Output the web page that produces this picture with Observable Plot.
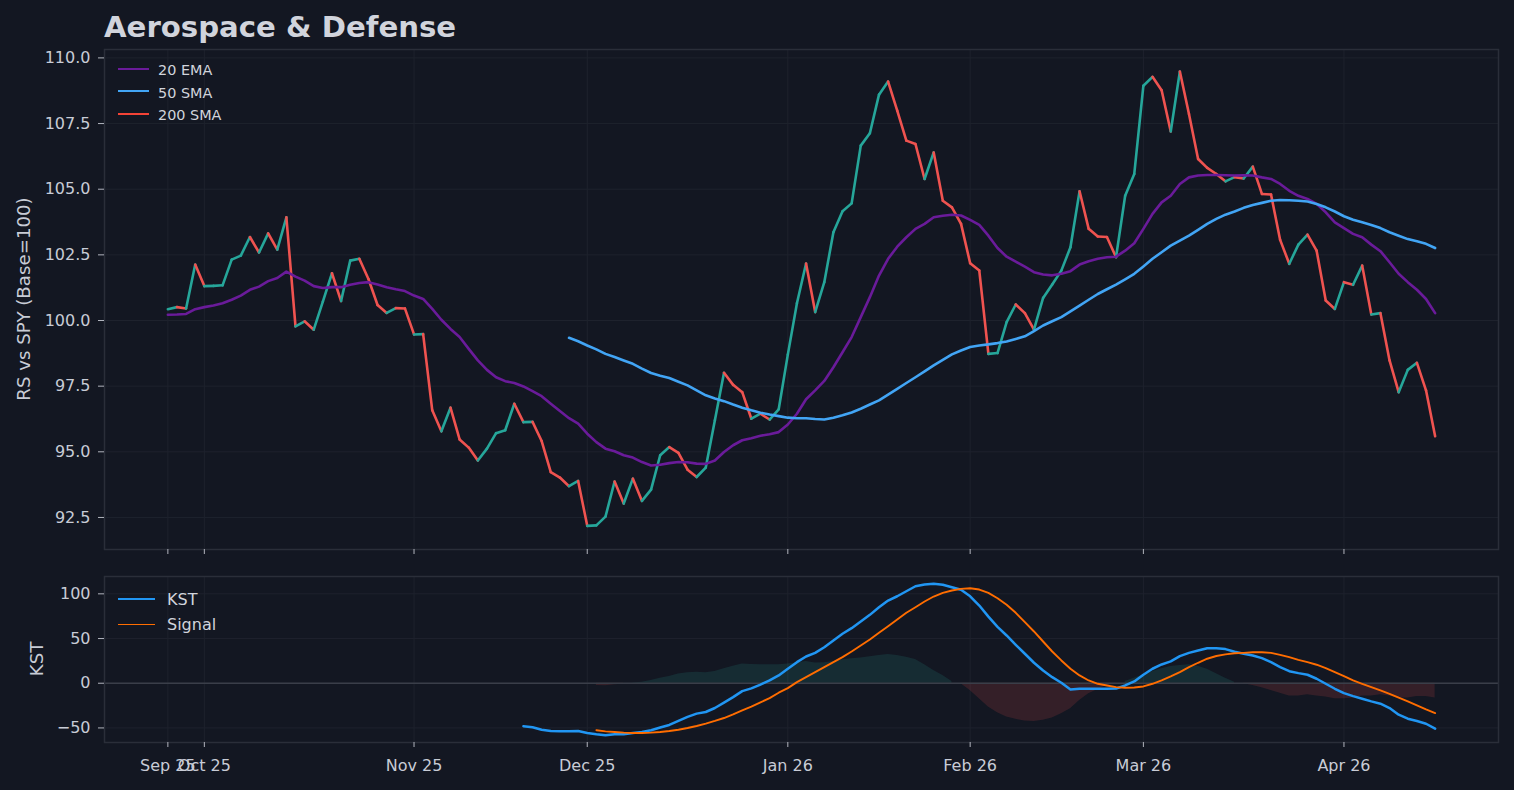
<!DOCTYPE html>
<html><head><meta charset="utf-8">
<script src="https://cdn.jsdelivr.net/npm/d3@7"></script>
<script src="https://cdn.jsdelivr.net/npm/@observablehq/plot@0.6"></script>
<style>
html,body{margin:0;padding:0;background:#131722;overflow:hidden;}
#wrap{position:relative;width:1514px;height:790px;background:#131722;font-family:"DejaVu Sans",sans-serif;color:#c8ccd6;}
.abs{position:absolute;white-space:nowrap;line-height:1;}
#title{left:104px;top:12.5px;font-size:29.2px;font-weight:bold;color:#d1d4dc;}
.lg1{font-size:14.4px;color:#d1d4dc;}
.lg2{font-size:16px;color:#d1d4dc;}
.sw{position:absolute;height:0;}
.ylab{font-size:18.2px;color:#c8ccd6;transform:translate(-50%,-50%) rotate(-90deg);}
#topPlot{position:absolute;left:0;top:0;}
#botPlot{position:absolute;left:0;top:560px;}
</style></head>
<body>
<div id="wrap">
  <div id="topPlot"></div>
  <div id="botPlot"></div>
  <div id="title" class="abs">Aerospace &amp; Defense</div>
  <div class="abs ylab" style="left:24px;top:299px;">RS vs SPY (Base=100)</div>
  <div class="abs ylab" style="left:37px;top:659px;">KST</div>
  <div id="legendTop"></div>
  <div id="legendBot"></div>
</div>
<script>
// ---- data (trading-day index, 0 = Sep 25 2025) ----
const xTickIndex = [0, 4, 27, 46, 68, 88, 107, 129];
const xTickLabels = ["Sep 25", "Oct 25", "Nov 25", "Dec 25", "Jan 26", "Feb 26", "Mar 26", "Apr 26"];
const rsTicks = [92.5, 95.0, 97.5, 100.0, 102.5, 105.0, 107.5, 110.0];
const kstTicks = [-50, 0, 50, 100];

// Relative strength vs SPY, index 0..139
const rs = [
  100.43,100.51,100.46,102.13,101.31,101.32,101.34,102.32,102.47,103.18,
  102.59,103.32,102.70,103.93,99.78,99.97,99.65,100.72,101.80,100.74,
  102.28,102.35,101.58,100.59,100.29,100.47,100.46,99.47,99.48,96.58,
  95.78,96.68,95.47,95.16,94.67,95.12,95.71,95.82,96.83,96.13,
  96.14,95.41,94.23,94.02,93.69,93.89,92.18,92.20,92.53,93.87,
  93.03,93.98,93.13,93.56,94.87,95.18,94.96,94.32,94.04,94.40,
  96.20,98.01,97.55,97.27,96.26,96.45,96.23,96.62,98.70,100.66,
  102.17,100.32,101.46,103.36,104.16,104.46,106.66,107.13,108.60,109.10,
  107.99,106.85,106.72,105.39,106.40,104.56,104.31,103.68,102.18,101.90,
  98.73,98.76,99.94,100.61,100.28,99.65,100.86,101.37,101.90,102.79,
  104.92,103.49,103.20,103.18,102.41,104.75,105.58,108.94,109.28,108.77,
  107.20,109.48,107.86,106.15,105.81,105.58,105.30,105.46,105.41,105.86,
  104.82,104.80,103.07,102.16,102.89,103.27,102.66,100.76,100.44,101.46,
  101.36,102.09,100.23,100.28,98.48,97.27,98.12,98.39,97.34,95.59
];
// 20 EMA, index 0..139
const ema20 = [
  100.22,100.23,100.25,100.43,100.51,100.57,100.66,100.79,100.95,101.17,
  101.29,101.50,101.62,101.86,101.67,101.52,101.31,101.24,101.27,101.27,
  101.36,101.43,101.46,101.37,101.27,101.19,101.12,100.95,100.82,100.44,
  100.03,99.68,99.37,98.92,98.48,98.12,97.84,97.69,97.62,97.49,
  97.31,97.12,96.83,96.55,96.28,96.07,95.69,95.37,95.12,95.02,
  94.87,94.78,94.61,94.48,94.51,94.57,94.61,94.60,94.55,94.54,
  94.67,94.99,95.25,95.44,95.52,95.61,95.67,95.75,96.04,96.45,
  97.00,97.34,97.70,98.22,98.79,99.37,100.13,100.89,101.71,102.35,
  102.81,103.17,103.49,103.68,103.93,103.99,104.03,104.00,103.83,103.64,
  103.23,102.76,102.43,102.24,102.05,101.84,101.75,101.72,101.78,101.88,
  102.13,102.26,102.35,102.41,102.43,102.66,102.94,103.49,104.06,104.50,
  104.75,105.20,105.45,105.52,105.54,105.54,105.53,105.52,105.53,105.52,
  105.45,105.39,105.20,104.94,104.75,104.63,104.44,104.12,103.74,103.52,
  103.30,103.17,102.89,102.64,102.22,101.78,101.46,101.17,100.82,100.28
];
// 50 SMA, starts at index 44
const sma50Start = 44;
const sma50 = [
  99.34,99.21,99.05,98.90,98.73,98.61,98.48,98.35,98.17,98.00,
  97.90,97.81,97.67,97.53,97.34,97.15,97.03,96.93,96.80,96.68,
  96.58,96.49,96.42,96.36,96.30,96.28,96.28,96.25,96.23,96.30,
  96.39,96.50,96.64,96.80,96.96,97.18,97.40,97.62,97.84,98.06,
  98.29,98.50,98.71,98.86,98.99,99.05,99.09,99.14,99.20,99.30,
  99.40,99.60,99.81,99.97,100.13,100.35,100.57,100.79,101.01,101.19,
  101.37,101.57,101.78,102.06,102.35,102.60,102.85,103.04,103.23,103.45,
  103.68,103.87,104.03,104.15,104.29,104.40,104.48,104.56,104.59,104.58,
  104.56,104.53,104.44,104.31,104.15,103.97,103.84,103.74,103.64,103.52,
  103.36,103.23,103.10,103.02,102.92,102.76
];
// KST, starts at index 39
const kstStart = 39;
const kst = [
  -48.1,-49.2,-52.0,-53.4,-53.8,-53.8,-53.4,-55.6,-57.1,-58.2,
  -57.1,-57.1,-55.6,-54.5,-52.6,-49.6,-46.7,-42.2,-37.7,-34.0,
  -32.2,-27.7,-21.7,-15.5,-8.8,-5.8,-1.5,3.1,8.7,16.2,
  23.6,29.9,34.0,40.3,47.8,55.3,61.6,69.0,76.5,85.0,
  92.5,97.3,102.9,108.5,110.4,111.2,110.1,107.4,104.5,97.3,
  86.9,74.5,63.0,53.4,43.0,33.0,22.9,14.3,6.8,0.6,
  -6.9,-6.2,-6.2,-6.3,-6.3,-6.0,-2.5,2.0,9.5,16.2,
  21.0,24.4,30.3,34.0,36.6,39.2,39.2,38.2,35.2,33.0,
  31.1,28.1,23.6,18.0,13.5,11.3,9.5,5.0,-0.6,-6.2,
  -11.1,-14.4,-17.3,-20.3,-22.9,-27.8,-35.2,-39.7,-42.3,-45.3,
  -50.8
];
// Signal, starts at index 47
const signalStart = 47;
const signal = [
  -52.6,-53.8,-54.5,-55.2,-55.6,-55.6,-55.2,-54.5,-53.4,-52.0,
  -50.1,-47.8,-45.2,-42.2,-38.9,-34.8,-30.3,-26.2,-21.4,-16.6,
  -10.6,-5.5,1.2,6.8,12.4,18.0,23.6,29.2,35.5,42.2,
  48.9,56.4,63.8,71.3,78.8,85.0,91.4,97.0,101.1,103.7,
  105.6,106.3,104.8,101.1,95.1,87.7,78.8,68.3,57.9,46.7,
  35.5,25.5,16.2,8.7,3.1,-0.6,-2.5,-4.4,-5.0,-4.7,
  -3.6,-0.6,3.1,7.6,12.4,18.0,22.9,27.4,30.5,32.3,
  33.5,34.0,34.7,34.7,34.0,31.8,29.2,26.2,23.6,20.7,
  16.9,12.4,7.9,3.1,-0.6,-4.4,-8.0,-11.8,-16.2,-20.3,
  -24.8,-29.3,-33.4
];
// KST histogram, starts at index 47
const histStart = 47;
const hist = [
  -2.5,-2.8,-1.7,-1.0,0.3,1.2,3.1,5.7,7.6,10.2,
  11.7,12.4,11.7,13.2,16.2,19.1,21.4,21.0,20.7,20.7,
  20.7,21.4,22.9,24.4,22.5,22.9,24.4,26.2,27.4,28.1,
  29.6,31.1,32.2,31.1,29.2,26.6,20.7,14.3,8.7,2.0,
  -0.6,-8.0,-17.3,-26.7,-33.0,-37.8,-40.4,-42.2,-42.7,-41.5,
  -38.9,-34.0,-28.5,-19.2,-11.8,-6.9,-2.5,-0.6,2.0,5.7,
  9.5,13.2,16.2,18.7,19.9,20.7,19.1,15.7,10.6,5.7,
  1.2,-0.6,-2.5,-5.0,-8.0,-11.1,-14.4,-14.4,-12.9,-14.4,
  -15.5,-17.3,-17.3,-16.6,-14.4,-14.4,-12.9,-14.4,-16.6,-16.6,
  -14.8,-14.8,-16.6
];

// ---- styles ----
const BG = "#131722", GRID = "#1e222d", FRAME = "#2a2e39", TICK = "#b2b5be", TXT = "#c8ccd6";
const UP = "#26a69a", DOWN = "#ef5350";
const C_EMA = "#6a1b9a", C_SMA50 = "#42a5f5", C_SMA200 = "#f44336";
const C_KST = "#2196f3", C_SIG = "#ff6d00";
const W = 1514;
const xDomain = [-6.95, 145.95];

const segs = d3.range(1, rs.length).map(i => ({x1: i - 1, y1: rs[i - 1], x2: i, y2: rs[i], c: rs[i] >= rs[i - 1] ? UP : DOWN}));
const emaData = ema20.map((v, i) => ({i, v}));
const smaData = sma50.map((v, j) => ({i: sma50Start + j, v}));
const kstData = kst.map((v, j) => ({i: kstStart + j, v}));
const sigData = signal.map((v, j) => ({i: signalStart + j, v}));
const histData = hist.map((v, j) => ({i: histStart + j, v}));
const style = {background: BG, color: TXT, fontFamily: "DejaVu Sans, sans-serif", fontSize: "16px", overflow: "visible"};

const topChart = Plot.plot({
  width: W, height: 560, marginTop: 49, marginBottom: 11, marginLeft: 104, marginRight: 16,
  style,
  x: {type: "linear", domain: xDomain},
  y: {domain: [91.28, 110.32]},
  marks: [
    Plot.gridY(rsTicks, {stroke: GRID, strokeOpacity: 1, strokeWidth: 1}),
    Plot.gridX(xTickIndex, {stroke: GRID, strokeOpacity: 1, strokeWidth: 1}),
    Plot.link(segs, {x1: "x1", y1: "y1", x2: "x2", y2: "y2", stroke: "c", strokeWidth: 2.6, strokeLinecap: "round"}),
    Plot.line(emaData, {x: "i", y: "v", stroke: C_EMA, strokeWidth: 2.6}),
    Plot.line(smaData, {x: "i", y: "v", stroke: C_SMA50, strokeWidth: 2.6}),
    Plot.frame({stroke: FRAME, strokeWidth: 1.5}),
    Plot.axisY(rsTicks, {tickFormat: d => d.toFixed(1), tickSize: 6, tickPadding: 8, stroke: TICK, fill: TXT, label: null, fontSize: 16}),
    Plot.axisX(xTickIndex, {tickFormat: () => "", tickSize: 5, stroke: TICK, label: null})
  ]
});
document.getElementById("topPlot").appendChild(topChart);

const botChart = Plot.plot({
  width: W, height: 230, marginTop: 16, marginBottom: 48, marginLeft: 104, marginRight: 16,
  style,
  x: {type: "linear", domain: xDomain},
  y: {domain: [-66.3, 119.4]},
  marks: [
    Plot.gridY(kstTicks, {stroke: GRID, strokeOpacity: 1, strokeWidth: 1}),
    Plot.gridX(xTickIndex, {stroke: GRID, strokeOpacity: 1, strokeWidth: 1}),
    Plot.area(histData, {x1: "i", y1: () => 0, y2: d => d.v >= 0 ? d.v : NaN, fill: UP, fillOpacity: 0.15}),
    Plot.area(histData, {x1: "i", y1: () => 0, y2: d => d.v <= 0 ? d.v : NaN, fill: DOWN, fillOpacity: 0.15}),
    Plot.ruleY([0], {stroke: "#3a3e49", strokeWidth: 1.6}),
    Plot.line(kstData, {x: "i", y: "v", stroke: C_KST, strokeWidth: 2.5}),
    Plot.line(sigData, {x: "i", y: "v", stroke: C_SIG, strokeWidth: 1.9}),
    Plot.frame({stroke: FRAME, strokeWidth: 1.5}),
    Plot.axisY(kstTicks, {tickFormat: d => d < 0 ? "\u2212" + Math.abs(d) : String(d), tickSize: 6, tickPadding: 8, stroke: TICK, fill: TXT, label: null, fontSize: 16}),
    Plot.axisX(xTickIndex, {tickFormat: d => xTickLabels[xTickIndex.indexOf(d)], tickSize: 5, tickPadding: 12, stroke: TICK, fill: TXT, label: null, fontSize: 16})
  ]
});
document.getElementById("botPlot").appendChild(botChart);

// ---- legends (HTML) ----
const legendTopItems = [["20 EMA", C_EMA], ["50 SMA", C_SMA50], ["200 SMA", C_SMA200]];
const lt = document.getElementById("legendTop");
legendTopItems.forEach(([name, col], k) => {
  const y = 69.3 + k * 22.3;
  const sw = document.createElement("div");
  sw.className = "sw";
  sw.style.cssText = `left:118px;width:31px;top:${y - 1.3}px;border-top:2.6px solid ${col};`;
  lt.appendChild(sw);
  const t = document.createElement("div");
  t.className = "abs lg1";
  t.style.left = "158px";
  t.style.top = (y + 6.2 - 0.846 * 14.4) + "px";
  t.textContent = name;
  lt.appendChild(t);
});
const legendBotItems = [["KST", C_KST, 2.5], ["Signal", C_SIG, 1.9]];
const lb = document.getElementById("legendBot");
legendBotItems.forEach(([name, col, w], k) => {
  const y = 599.3 + k * 25.5;
  const sw = document.createElement("div");
  sw.className = "sw";
  sw.style.cssText = `left:118px;width:37px;top:${y - w / 2}px;border-top:${w}px solid ${col};`;
  lb.appendChild(sw);
  const t = document.createElement("div");
  t.className = "abs lg2";
  t.style.left = "167px";
  t.style.top = (y + 6.2 - 0.846 * 16) + "px";
  t.textContent = name;
  lb.appendChild(t);
});
</script>
</body></html>
